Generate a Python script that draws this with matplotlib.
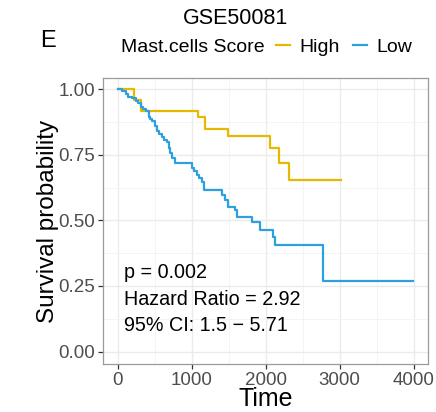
import matplotlib
matplotlib.use("Agg")
import matplotlib.pyplot as plt
from matplotlib.lines import Line2D
from matplotlib.offsetbox import HPacker

plt.rcParams['font.family'] = ['Liberation Sans', 'DejaVu Sans']

# ---- data ----
high_time = [0, 225, 316, 1080, 1176, 1498, 2061, 2186, 2321, 3015]
high_surv = [1.0, 0.957, 0.915, 0.894, 0.847, 0.821, 0.775, 0.720, 0.654, 0.654]

low_time = [0, 63, 108, 144, 198, 243, 279, 310, 347, 378, 424, 441, 468, 502,
            536, 563, 603, 630, 670, 688, 711, 734, 778, 1004, 1035, 1072, 1093,
            1139, 1161, 1409, 1453, 1498, 1588, 1611, 1814, 1926, 2105, 2128,
            2780, 3990]
low_surv = [1.0, 0.991, 0.981, 0.971, 0.964, 0.955, 0.945, 0.933, 0.924, 0.915,
            0.895, 0.886, 0.877, 0.859, 0.841, 0.829, 0.816, 0.806, 0.797, 0.774,
            0.757, 0.736, 0.717, 0.698, 0.686, 0.673, 0.661, 0.647, 0.615, 0.596,
            0.577, 0.552, 0.540, 0.514, 0.495, 0.463, 0.435, 0.406, 0.269, 0.269]

group_labels = ["High", "Low"]
group_colors = ["#E7B800", "#2E9FDF"]
x_ticks = [0, 1000, 2000, 3000, 4000]
y_ticks = [0.0, 0.25, 0.5, 0.75, 1.0]
y_tick_labels = ["0.00", "0.25", "0.50", "0.75", "1.00"]
annot = ["p = 0.002", "Hazard Ratio = 2.92", "95% CI: 1.5 \u2212 5.71"]
annot_y = [0.30, 0.20, 0.10]

fig = plt.figure(figsize=(4.36, 4.12), dpi=100)
ax = fig.add_axes([103/436, 1-364/412, (428-103)/436, (364-78)/412])

ax.step(high_time, high_surv, where='post', color=group_colors[0], lw=1.6)
ax.step(low_time, low_surv, where='post', color=group_colors[1], lw=1.6)

ax.set_xlim(-197, 4193)
ax.set_ylim(-0.047, 1.042)
ax.set_xticks(x_ticks)
ax.set_xticks([500, 1500, 2500, 3500], minor=True)
ax.set_yticks(y_ticks)
ax.set_yticklabels(y_tick_labels)
ax.set_yticks([0.125, 0.375, 0.625, 0.875], minor=True)
ax.grid(which='major', color='#EBEBEB', lw=1.0)
ax.grid(which='minor', color='#F3F3F3', lw=0.6)
ax.set_axisbelow(True)
for s in ax.spines.values():
    s.set_color('#9A9A9A')
    s.set_linewidth(0.9)
ax.tick_params(which='major', length=3.5, width=0.9, color='#333333',
               labelsize=13.5, labelcolor='#4D4D4D', pad=2)
ax.tick_params(which='minor', length=0)

ax.set_xlabel("Time", fontsize=18, labelpad=-1)
ax.set_ylabel("Survival probability", fontsize=17.5, labelpad=0)

for t, y in zip(annot, annot_y):
    ax.text(90, y, t, fontsize=14.2, ha='left', va='center', color='black')

fig.text(235/436, 1-18/412, "GSE50081", fontsize=15.5, ha='center', va='center')
fig.text(48/436, 1-41/412, "E", fontsize=17, ha='center', va='center')

handles = [Line2D([0], [0], color=c, lw=1.6) for c in group_colors]
leg = fig.legend(handles, group_labels, title="Mast.cells Score", ncol=2,
                 loc='center', bbox_to_anchor=(267/436, 1-47/412),
                 frameon=False, fontsize=14, title_fontsize=14,
                 handlelength=0.7, handletextpad=0.5, columnspacing=0.7,
                 borderpad=0, borderaxespad=0)
title_box = leg._legend_title_box
items_box = leg._legend_handle_box
leg._legend_box._children = [HPacker(pad=0, sep=8, children=[title_box, items_box], align='center')]

fig.savefig("out.png", dpi=100)
